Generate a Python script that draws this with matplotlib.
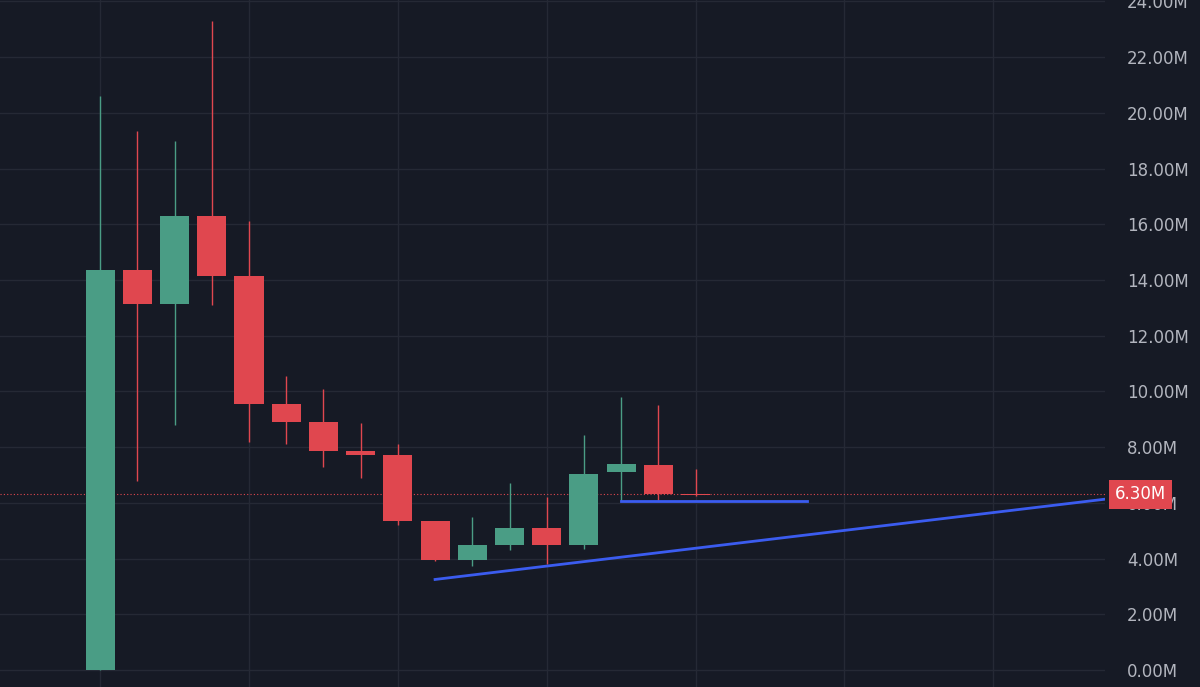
import matplotlib
matplotlib.use("Agg")
import matplotlib.pyplot as plt
from matplotlib.ticker import FuncFormatter, MultipleLocator

opens  = [0.0, 14.35, 13.15, 16.3, 14.15, 9.55, 8.9, 7.85, 7.7, 5.35, 3.95, 4.5, 5.1, 4.5, 7.1, 7.35, 6.3]
closes = [14.35, 13.15, 16.3, 14.15, 9.55, 8.9, 7.85, 7.7, 5.35, 3.95, 4.5, 5.1, 4.5, 7.05, 7.38, 6.3, 6.28]
highs  = [20.6, 19.35, 19.0, 23.3, 16.1, 10.55, 10.1, 8.85, 8.1, 5.35, 5.5, 6.7, 6.2, 8.45, 9.8, 9.5, 7.2]
lows   = [0.0, 6.8, 8.8, 13.1, 8.2, 8.1, 7.3, 6.9, 5.2, 3.9, 3.75, 4.3, 3.8, 4.35, 6.05, 6.1, 6.25]
last_price = 6.30
trend_line = ([9, 27.3], [3.25, 6.18])
support_line = ([14, 19], [6.07, 6.07])

bg = "#161a25"; grid = "#252935"; green = "#4a9d85"; red = "#e0474f"; txt = "#b2b5be"

fig = plt.figure(figsize=(12, 6.87), dpi=100, facecolor=bg)
ax = fig.add_axes([0, 0, 1105/1200, 1])
ax.set_facecolor(bg)
w = 0.78
for i, (o, c, h, l) in enumerate(zip(opens, closes, highs, lows)):
    col = green if c >= o else red
    ax.vlines(i, l, h, color=col, lw=1, zorder=3)
    ax.bar(i, max(abs(c - o), 0.04), bottom=min(o, c), width=w, color=col, zorder=4)

ax.plot(*trend_line, color="#3b5cf0", lw=2, zorder=5)
ax.plot(*support_line, color="#3b5cf0", lw=2, zorder=5)
ax.axhline(last_price, color=red, lw=0.8, ls=(0, (1, 2)), zorder=2)

ax.set_xlim(-2.69, 27.0)
ax.set_ylim(-0.61, 24.05)
ax.set_xticks(range(0, 28, 4))
ax.yaxis.set_major_locator(MultipleLocator(2))
ax.grid(True, color=grid, lw=1)
ax.set_axisbelow(True)
ax.yaxis.tick_right()
ax.yaxis.set_major_formatter(FuncFormatter(lambda v, p: f"{v:.2f}M"))
ax.tick_params(axis="y", colors=txt, labelsize=12, length=0, pad=16)
ax.tick_params(axis="x", length=0, labelbottom=False)
for s in ax.spines.values():
    s.set_visible(False)
ax.text(1.0 + 10/1105, last_price, f"{last_price:.2f}M", transform=ax.get_yaxis_transform(),
        color="white", fontsize=12, va="center", ha="left", zorder=10,
        bbox=dict(boxstyle="square,pad=0.35", fc=red, ec="none"), clip_on=False)
fig.savefig("out.png", dpi=100, facecolor=bg)
